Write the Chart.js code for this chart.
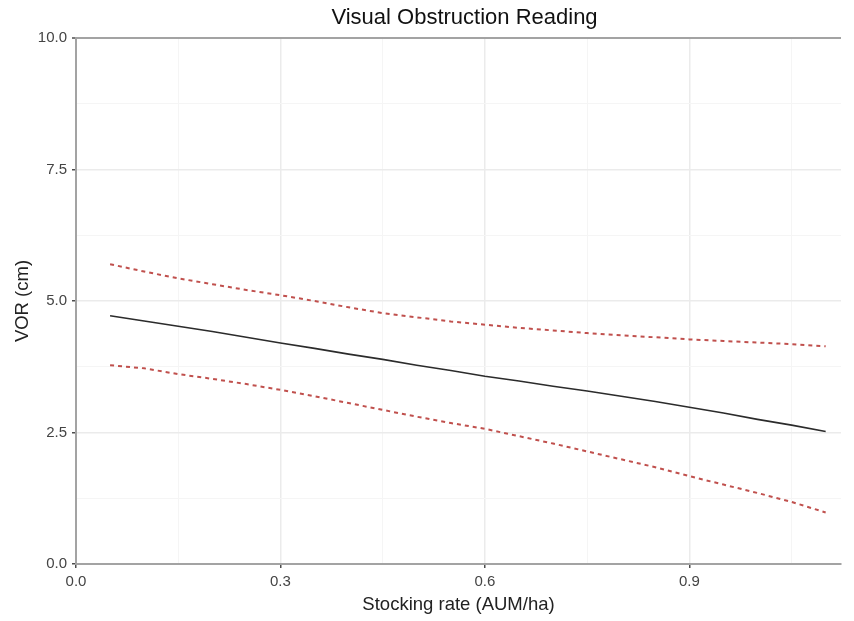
<!DOCTYPE html>
<html>
<head>
<meta charset="utf-8">
<script src="https://cdn.jsdelivr.net/npm/chart.js@4/dist/chart.umd.min.js"></script>
<style>
  html, body { margin: 0; padding: 0; background: #fff; }
  #wrap { width: 854px; height: 621px; position: relative; }
</style>
</head>
<body>
<div id="wrap"><canvas id="myChart"></canvas></div>
<script>
// stocking rate (AUM/ha)
const stockingRate = [0.05, 0.10, 0.15, 0.20, 0.25, 0.30, 0.35, 0.40, 0.45, 0.50, 0.55,
                      0.60, 0.65, 0.70, 0.75, 0.80, 0.85, 0.90, 0.95, 1.00, 1.05, 1.10];
// fitted VOR (cm)
const vorFit   = [4.72, 4.62, 4.52, 4.42, 4.31, 4.20, 4.10, 3.99, 3.89, 3.78, 3.68,
                  3.57, 3.48, 3.38, 3.29, 3.19, 3.09, 2.98, 2.87, 2.75, 2.64, 2.52];
// confidence band
const vorUpper = [5.70, 5.56, 5.43, 5.32, 5.21, 5.11, 5.00, 4.88, 4.77, 4.69, 4.61,
                  4.55, 4.49, 4.44, 4.39, 4.35, 4.31, 4.27, 4.24, 4.21, 4.18, 4.14];
const vorLower = [3.78, 3.72, 3.61, 3.52, 3.42, 3.31, 3.19, 3.06, 2.93, 2.80, 2.68,
                  2.57, 2.43, 2.29, 2.14, 1.99, 1.84, 1.67, 1.51, 1.35, 1.18, 0.98];

const xTicks = [0, 0.15, 0.3, 0.45, 0.6, 0.75, 0.9, 1.05];   // odd ones are minor
const yTicks = [0, 1.25, 2.5, 3.75, 5, 6.25, 7.5, 8.75, 10];

const toPoints = ys => ys.map((y, i) => ({x: stockingRate[i], y: y}));

const FONT = '"Liberation Sans", Arial, sans-serif';

// title drawn by hand so it sits where ggplot put it
const titlePlugin = {
  id: 'ggTitle',
  afterDraw(chart) {
    const ctx = chart.ctx;
    const {left, right} = chart.chartArea;
    ctx.save();
    ctx.font = '22px ' + FONT;
    ctx.fillStyle = '#111';
    ctx.textAlign = 'center';
    ctx.textBaseline = 'middle';
    ctx.fillText('Visual Obstruction Reading', (left + right) / 2 + 6, 18);
    ctx.restore();
  }
};

const isMajor = (v, step) => Math.abs(v / step - Math.round(v / step)) < 1e-6;

new Chart(document.getElementById('myChart'), {
  type: 'line',
  data: {
    datasets: [
      {
        label: 'upper',
        data: toPoints(vorUpper),
        borderColor: '#c0504d',
        borderWidth: 2,
        borderDash: [4, 4],
        pointRadius: 0,
        fill: false
      },
      {
        label: 'fit',
        data: toPoints(vorFit),
        borderColor: '#2b2b2b',
        borderWidth: 1.6,
        pointRadius: 0,
        fill: false
      },
      {
        label: 'lower',
        data: toPoints(vorLower),
        borderColor: '#c0504d',
        borderWidth: 2,
        borderDash: [4, 4],
        pointRadius: 0,
        fill: false
      }
    ]
  },
  options: {
    responsive: true,
    maintainAspectRatio: false,
    animation: false,
    layout: { padding: { left: 0, right: 13, top: 38, bottom: 0 } },
    plugins: {
      legend: { display: false },
      tooltip: { enabled: false },
      title: { display: false }
    },
    scales: {
      x: {
        type: 'linear',
        min: 0,
        max: 1.1225,
        afterBuildTicks: scale => { scale.ticks = xTicks.map(v => ({value: v})); },
        afterFit: scale => { scale.height = 57; },
        ticks: {
          autoSkip: false,
          maxRotation: 0,
          padding: 5,
          color: '#444',
          font: { family: FONT, size: 15 },
          callback: v => isMajor(v, 0.3) ? v.toFixed(1) : ''
        },
        grid: {
          drawOnChartArea: true,
          tickLength: 4,
          color: c => isMajor(c.tick.value, 0.3) ? '#ebebeb' : '#f5f5f5',
          lineWidth: c => isMajor(c.tick.value, 0.3) ? 1.5 : 1,
          tickColor: c => isMajor(c.tick.value, 0.3) ? '#4d4d4d' : 'rgba(0,0,0,0)',
          tickWidth: 1.5
        },
        border: { color: '#a3a3a3', width: 2 },
        title: {
          display: true,
          text: 'Stocking rate (AUM/ha)',
          color: '#222',
          font: { family: FONT, size: 18.5 },
          padding: { top: 0, bottom: 5 }
        }
      },
      y: {
        type: 'linear',
        min: 0,
        max: 10,
        afterBuildTicks: scale => { scale.ticks = yTicks.map(v => ({value: v})); },
        afterFit: scale => { scale.width = 76; },
        ticks: {
          autoSkip: false,
          padding: 5,
          color: '#444',
          font: { family: FONT, size: 15 },
          callback: v => isMajor(v, 2.5) ? v.toFixed(1) : ''
        },
        grid: {
          tickLength: 4,
          color: c => c.tick.value === 10 ? '#a3a3a3' : (isMajor(c.tick.value, 2.5) ? '#ebebeb' : '#f5f5f5'),
          lineWidth: c => c.tick.value === 10 ? 2 : (isMajor(c.tick.value, 2.5) ? 1.5 : 1),
          tickColor: c => isMajor(c.tick.value, 2.5) ? '#4d4d4d' : 'rgba(0,0,0,0)',
          tickWidth: 1.5
        },
        border: { color: '#a3a3a3', width: 2 },
        title: {
          display: true,
          text: 'VOR (cm)',
          color: '#222',
          font: { family: FONT, size: 18.5 },
          padding: { top: 12, bottom: 0 }
        }
      }
    }
  },
  plugins: [titlePlugin]
});
</script>
</body>
</html>
